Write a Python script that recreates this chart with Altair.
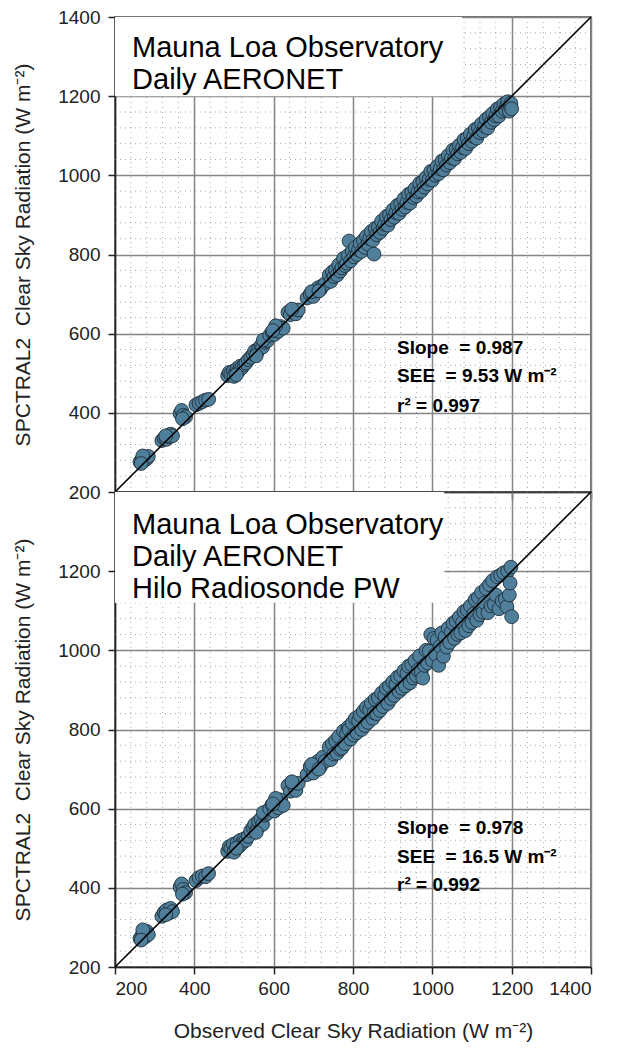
import altair as alt
import pandas as pd

FONT = "Liberation Sans"

# ---------------- data ----------------
# Top panel: SPCTRAL2 with daily AERONET inputs
top_obs = [263, 268, 272, 276, 280, 284, 270, 266,
           318, 324, 330, 336, 340, 345, 328,
           364, 368, 372, 378, 370,
           404, 412, 420, 428, 436,
           484, 488, 492, 498, 503, 508, 512, 516, 520, 526, 530, 500, 506,
           536, 542, 548, 552, 558, 562, 568, 572, 578, 584, 556, 574,
           590, 596, 602, 608, 612, 618, 624, 605, 598,
           636, 642, 650, 656, 662, 646,
           684, 692, 700, 706, 712, 718, 724, 730, 696, 714,
           740, 744, 748, 752, 756, 760, 764, 768, 772, 776, 780, 784, 788, 790,
           794, 798, 802, 806, 810, 814, 818, 822, 826, 830, 834, 838, 842, 846,
           850, 853, 856, 860, 864, 868, 872, 876, 880, 884, 888, 892, 896, 900,
           904, 908, 912, 916, 920, 924, 928, 932, 936, 940, 944, 948, 952, 956,
           960, 964, 968, 972, 976, 980, 984, 988, 992, 996, 1000, 1004, 1008,
           1012, 1016, 1020, 1024, 1028, 1032, 1036, 1040, 1044, 1048, 1052, 1056,
           1060, 1064, 1068, 1072, 1076, 1080, 1084, 1088, 1092, 1096, 1100, 1104,
           1108, 1112, 1116, 1120, 1124, 1128, 1132, 1136, 1140, 1144, 1148, 1152,
           1156, 1160, 1164, 1168, 1172, 1176, 1180, 1184, 1188, 1190, 1194, 1196,
           1198, 1200]
top_mod = [276, 282, 278, 288, 284, 290, 291, 272,
           330, 336, 333, 340, 346, 342, 342,
           398, 406, 394, 390, 385,
           420, 424, 428, 432, 434,
           494, 502, 498, 505, 500, 512, 506, 518, 514, 522, 526, 492, 496,
           534, 540, 548, 556, 552, 562, 570, 566, 578, 582, 544, 584,
           596, 604, 598, 612, 606, 618, 614, 620, 608,
           654, 648, 656, 650, 660, 662,
           690, 700, 694, 708, 716, 712, 722, 726, 706, 708,
           748, 732, 756, 744, 762, 748, 774, 758, 766, 790, 772, 778, 798, 834,
           784, 808, 794, 818, 800, 812, 828, 808, 836, 818, 846, 826, 840, 858,
           836, 801, 866, 850, 870, 856, 884, 866, 876, 896, 874, 900, 888, 912,
           894, 906, 924, 904, 928, 914, 940, 920, 932, 952, 930, 956, 944, 966,
           948, 958, 980, 960, 984, 970, 994, 978, 990, 1010, 988, 1012, 1000,
           1022, 1004, 1016, 1036, 1014, 1040, 1026, 1050, 1032, 1044, 1064, 1042,
           1066, 1054, 1076, 1058, 1070, 1090, 1068, 1094, 1080, 1104, 1086, 1098,
           1116, 1094, 1120, 1108, 1130, 1112, 1124, 1142, 1120, 1148, 1134, 1156,
           1140, 1150, 1168, 1150, 1172, 1162, 1180, 1166, 1178, 1186, 1162, 1176,
           1182, 1168]

# Bottom panel: SPCTRAL2 with daily AERONET and Hilo radiosonde PW
bot_obs = top_obs
bot_mod = [272, 280, 286, 276, 290, 282, 294, 268,
           328, 338, 344, 336, 348, 340, 332,
           402, 410, 396, 388, 384,
           418, 426, 430, 428, 436,
           492, 504, 500, 510, 496, 514, 504, 520, 512, 524, 520, 490, 500,
           530, 544, 552, 560, 548, 568, 574, 560, 584, 588, 540, 590,
           600, 610, 594, 616, 602, 622, 608, 626, 612,
           658, 644, 660, 646, 664, 668,
           686, 706, 690, 714, 720, 706, 730, 720, 712, 700,
           756, 724, 764, 738, 772, 740, 782, 750, 753, 796, 764, 790, 806, 800,
           776, 816, 786, 828, 792, 822, 836, 800, 846, 810, 856, 818, 850, 866,
           828, 842, 876, 840, 880, 848, 892, 858, 886, 904, 866, 910, 878, 920,
           886, 914, 932, 896, 936, 904, 948, 910, 942, 960, 918, 964, 930, 974,
           936, 950, 986, 945, 930, 962, 1000, 968, 998, 1040, 975, 1030, 990,
           1026, 962, 1010, 1044, 985, 1034, 1008, 1056, 1020, 1046, 1068, 1030,
           1074, 1040, 1084, 1044, 1070, 1098, 1050, 1102, 1062, 1112, 1070, 1092,
           1128, 1076, 1134, 1090, 1146, 1096, 1120, 1156, 1095, 1166, 1112, 1176,
           1116, 1140, 1186, 1105, 1190, 1125, 1196, 1130, 1110, 1200, 1140, 1170,
           1210, 1085]

major_ticks = [200, 400, 600, 800, 1000, 1200, 1400]
bottom_y_ticks = [200, 400, 600, 800, 1000, 1200]
minor_ticks = [240, 280, 320, 360, 440, 480, 520, 560, 640, 680, 720, 760,
               840, 880, 920, 960, 1040, 1080, 1120, 1160, 1240, 1280, 1320, 1360]
one_to_one = [200, 1400]

NB = "\u00a0"
top_label_lines = ["Mauna Loa Observatory", "Daily AERONET"]
bot_label_lines = ["Mauna Loa Observatory", "Daily AERONET", "Hilo Radiosonde PW"]
top_stats = ["Slope" + NB + " = 0.987", "SEE" + NB + " = 9.53 W m\u207b\u00b2", "r\u00b2 = 0.997"]
bot_stats = ["Slope" + NB + " = 0.978", "SEE" + NB + " = 16.5 W m\u207b\u00b2", "r\u00b2 = 0.992"]

Y_TITLE = "SPCTRAL2" + NB + " Clear Sky Radiation (W m\u207b\u00b2)"
X_TITLE = "Observed Clear Sky Radiation (W m\u207b\u00b2)"

# annotation anchors in data units
top_label_x, top_label_ys = 243, [1321, 1240]
bot_label_x, bot_label_ys = 243, [1317, 1237, 1156]
top_box = {"x": 200, "x2": 1075, "y": 1200, "y2": 1400}
bot_box = {"x": 200, "x2": 1030, "y": 1120, "y2": 1400}
stats_x = 911
top_stats_ys = [565, 492, 418]
bot_stats_ys = [551, 479, 406]

W = 476
H = 475


def panel(obs, mod, label_lines, label_x, label_ys, box, stats, stats_ys,
          y_ticks, bottom):
    scale = alt.Scale(domain=[200, 1400], nice=False, zero=False)
    xaxis = alt.Axis(values=major_ticks, labels=bottom, ticks=True, format="d",
                     grid=True, title=X_TITLE if bottom else None)
    yaxis = alt.Axis(values=y_ticks, grid=True, title=Y_TITLE, format="d")

    def X(f="x"):
        return alt.X(f"{f}:Q", scale=scale, axis=xaxis)

    def Y(f="y"):
        return alt.Y(f"{f}:Q", scale=scale, axis=yaxis)

    vgrid = alt.Chart(pd.DataFrame({"x": minor_ticks})).mark_rule(
        color="#6d8aa0", strokeWidth=1, strokeDash=[1, 4], opacity=0.7
    ).encode(x=X())
    hgrid = alt.Chart(pd.DataFrame({"y": minor_ticks})).mark_rule(
        color="#6d8aa0", strokeWidth=1, strokeDash=[1, 4], opacity=0.7
    ).encode(y=Y())
    rect = alt.Chart(pd.DataFrame([box])).mark_rect(color="white").encode(
        x=X(), x2="x2:Q", y=Y(), y2="y2:Q")
    pts = alt.Chart(pd.DataFrame({"x": obs, "y": mod})).mark_circle(
        fill="#4f7f9b", stroke="#1e2e38", strokeWidth=0.9, size=190, opacity=1
    ).encode(x=X(), y=Y())
    line = alt.Chart(pd.DataFrame({"x": one_to_one, "y": one_to_one})).mark_line(
        color="black", strokeWidth=1.6
    ).encode(x=X(), y=Y())
    lbl = alt.Chart(pd.DataFrame({"x": [label_x] * len(label_lines),
                                  "y": label_ys, "t": label_lines})).mark_text(
        align="left", baseline="middle", font=FONT, fontSize=29, color="black"
    ).encode(x=X(), y=Y(), text="t:N")
    st = alt.Chart(pd.DataFrame({"x": [stats_x] * len(stats),
                                 "y": stats_ys, "t": stats})).mark_text(
        align="left", baseline="middle", font=FONT, fontSize=19,
        fontWeight="bold", color="black"
    ).encode(x=X(), y=Y(), text="t:N")
    layers = [vgrid, hgrid, rect, pts, line, lbl, st]
    return alt.layer(*layers).properties(width=W, height=H)


top = panel(top_obs, top_mod, top_label_lines, top_label_x, top_label_ys,
            top_box, top_stats, top_stats_ys, major_ticks, False)
bot = panel(bot_obs, bot_mod, bot_label_lines, bot_label_x, bot_label_ys,
            bot_box, bot_stats, bot_stats_ys, bottom_y_ticks, True)

chart = alt.vconcat(top, bot, spacing=0, bounds="flush").properties(
    background="white",
    padding={"left": 11, "top": 7, "right": 5, "bottom": 5},
).configure_view(
    stroke="#444", strokeWidth=1.5
).configure_axis(
    gridColor="#858585", gridWidth=1.5, domainColor="#222", domainWidth=1.5,
    tickColor="#222", tickWidth=1.5, tickSize=7,
    labelFont=FONT, labelFontSize=19, labelColor="#222", labelPadding=8,
    titleFont=FONT, titleFontSize=21, titleFontWeight="normal", titleColor="#222",
).configure_axisY(
    titlePadding=24
).configure_axisX(
    titlePadding=22, labelPadding=5
)

chart.save("out.html", embed_options={"renderer": "svg", "actions": False})
